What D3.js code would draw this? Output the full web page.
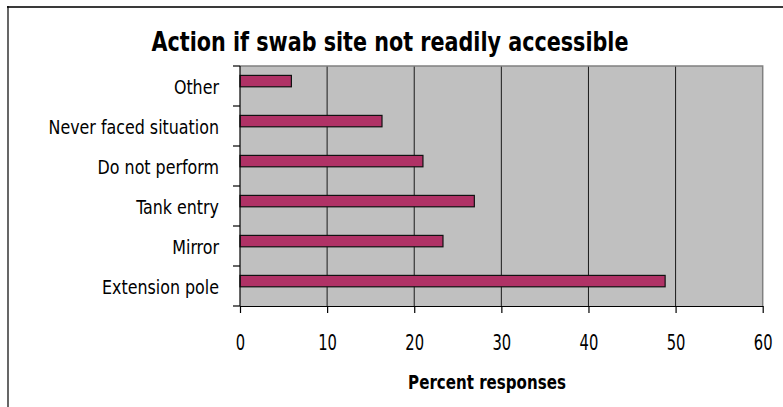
<!DOCTYPE html>
<html>
<head>
<meta charset="utf-8">
<script src="https://cdn.jsdelivr.net/npm/d3@7"></script>
<style>
  html, body { margin: 0; padding: 0; background: #fff; }
  svg text { font-family: "Liberation Sans Narrow", "Arial Narrow", "DejaVu Sans Condensed", "Roboto Condensed", sans-serif; font-stretch: condensed; }
</style>
</head>
<body>
<svg id="chart" width="783" height="407"></svg>
<script>
// Survey responses: action taken when the swab site cannot be reached easily
const categories = ["Other", "Never faced situation", "Do not perform", "Tank entry", "Mirror", "Extension pole"];
const percentValues = [5.9, 16.3, 21.0, 26.9, 23.3, 48.8];
const xTicks = [0, 10, 20, 30, 40, 50, 60];
const chartTitle = "Action if swab site not readily accessible";
const xAxisTitle = "Percent responses";

const svg = d3.select("#chart");
const W = 783, H = 407;
const plot = { left: 240, right: 762.7, top: 66, bottom: 306 };

// text helper: tall, narrow lettering via a horizontal squeeze
function label(g, tx, ty, str, size, sx, anchor, weight) {
  return g.append("text")
    .attr("transform", `translate(${tx},${ty}) scale(${sx},1)`)
    .attr("text-anchor", anchor)
    .attr("font-size", size)
    .attr("font-weight", weight || "normal")
    .attr("fill", "#000")
    .text(str);
}

// outer frame: heavy rule across the top, thin rule down the left
svg.append("line").attr("x1", 7).attr("x2", W).attr("y1", 7).attr("y2", 7)
  .attr("stroke", "#3a3a3a").attr("stroke-width", 2);
svg.append("line").attr("x1", 8).attr("x2", 8).attr("y1", 6).attr("y2", H)
  .attr("stroke", "#000").attr("stroke-width", 1.2);

const x = d3.scaleLinear().domain([0, 60]).range([plot.left, plot.right]);
const y = d3.scaleBand().domain(categories).range([plot.top, plot.bottom]).padding(0);

// plot background
svg.append("rect")
  .attr("x", plot.left).attr("y", plot.top)
  .attr("width", plot.right - plot.left).attr("height", plot.bottom - plot.top)
  .attr("fill", "#c0c0c0");

// vertical gridlines
svg.append("g").selectAll("line")
  .data(xTicks.filter(t => t > 0 && t < 60))
  .join("line")
  .attr("x1", d => x(d)).attr("x2", d => x(d))
  .attr("y1", plot.top).attr("y2", plot.bottom)
  .attr("stroke", "#1a1a1a").attr("stroke-width", 1);

// top and right plot border
svg.append("path")
  .attr("d", `M${plot.left},${plot.top}H${plot.right}V${plot.bottom}`)
  .attr("fill", "none").attr("stroke", "#808080").attr("stroke-width", 1.5);

// bars sit in the upper part of each category band
const bw = y.bandwidth();
svg.append("g").selectAll("rect")
  .data(categories.map((c, i) => ({ c, v: percentValues[i] })))
  .join("rect")
  .attr("x", x(0))
  .attr("y", d => y(d.c) + bw * 0.235)
  .attr("width", d => x(d.v) - x(0))
  .attr("height", bw * 0.285)
  .attr("fill", "#b03266")
  .attr("stroke", "#111").attr("stroke-width", 1.2);

// x axis
const xAxis = d3.axisBottom(x).tickValues(xTicks).tickSize(7).tickFormat("").tickSizeOuter(0);
const gx = svg.append("g").attr("transform", `translate(0,${plot.bottom})`).call(xAxis);
gx.select(".domain").attr("stroke", "#000").attr("stroke-width", 1.2);
gx.selectAll(".tick line").attr("stroke", "#000").attr("stroke-width", 1.2);
gx.selectAll(".tick").each(function (d) {
  label(d3.select(this), 0, 44, x.tickFormat(7, "d")(d), 21, 0.78, "middle");
});

// y axis: tick marks on band boundaries, labels at band centres
const gy = svg.append("g");
gy.append("line").attr("x1", plot.left).attr("x2", plot.left)
  .attr("y1", plot.top).attr("y2", plot.bottom)
  .attr("stroke", "#000").attr("stroke-width", 1.2);
const bounds = categories.map(c => y(c)).concat([plot.bottom]);
gy.selectAll("line.tk").data(bounds).join("line").attr("class", "tk")
  .attr("x1", plot.left - 7).attr("x2", plot.left)
  .attr("y1", d => d).attr("y2", d => d)
  .attr("stroke", "#000").attr("stroke-width", 1.2);
categories.forEach(c => {
  label(gy, 219, y(c) + bw / 2 + 8, c, 19, 0.93, "end");
});

// titles
label(svg, 390, 51, chartTitle, 26, 0.885, "middle", "bold");
label(svg, 487, 389, xAxisTitle, 19.5, 0.86, "middle", "bold");
</script>
</body>
</html>
